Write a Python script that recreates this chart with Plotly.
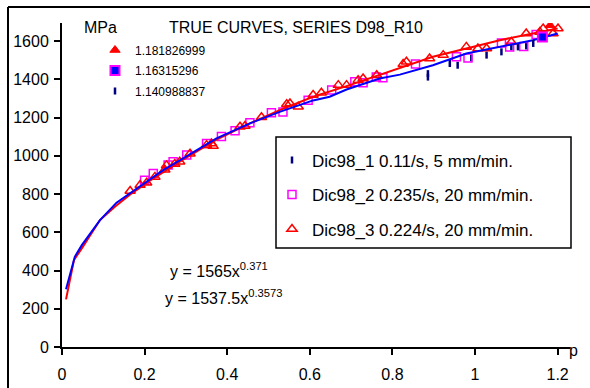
import plotly.graph_objects as go

# ---- data ----
red_x = [0.0097, 0.029, 0.048, 0.092, 0.128, 0.169, 0.213, 0.293, 0.374, 0.455, 0.527,
         0.608, 0.689, 0.769, 0.85, 0.898, 0.979, 1.06, 1.14, 1.2]
red_y = [249, 455, 516, 664, 734, 804, 870, 980, 1085, 1170, 1239,
         1309, 1365, 1422, 1483, 1518, 1562, 1605, 1640, 1666]

blue_x = [0.0097, 0.031, 0.048, 0.092, 0.132, 0.169, 0.213, 0.245, 0.293, 0.374, 0.455,
          0.527, 0.608, 0.648, 0.689, 0.769, 0.818, 0.85, 0.898, 0.979, 1.06, 1.14, 1.2]
blue_y = [302, 472, 533, 664, 755, 812, 880, 925, 987, 1091, 1170,
          1230, 1290, 1309, 1347, 1405, 1425, 1445, 1474, 1535, 1570, 1605, 1640]

sq_x = [0.200, 0.221, 0.257, 0.269, 0.302, 0.350, 0.386, 0.419, 0.455, 0.507, 0.535,
        0.596, 0.653, 0.709, 0.729, 0.761, 0.777, 0.856, 0.955, 0.983, 1.064, 1.084,
        1.118, 1.148]
sq_y = [873, 908, 952, 969, 1004, 1065, 1101, 1131, 1173, 1225, 1230,
        1291, 1344, 1387, 1382, 1413, 1409, 1480, 1518, 1512, 1590, 1570,
        1572, 1635]

tri_x = [0.165, 0.189, 0.205, 0.225, 0.249, 0.253, 0.273, 0.285, 0.310, 0.350, 0.362,
         0.366, 0.431, 0.443, 0.483, 0.544, 0.552, 0.572, 0.608, 0.628, 0.669, 0.689,
         0.717, 0.729, 0.762, 0.826, 0.834, 0.890, 0.923, 0.979, 1.007, 1.028, 1.088,
         1.124, 1.157, 1.165, 1.189, 1.201]
tri_y = [816, 847, 859, 890, 927, 950, 957, 969, 1011, 1056, 1065,
         1051, 1152, 1156, 1202, 1270, 1274, 1257, 1318, 1330, 1370, 1370,
         1396, 1405, 1422, 1480, 1492, 1509, 1527, 1570, 1562, 1562, 1596,
         1640, 1648, 1666, 1640, 1666]

dash_x = [0.886, 0.886, 0.939, 0.958, 0.991, 1.028, 1.064, 1.088, 1.104, 1.124]
dash_y = [1412, 1430, 1483, 1474, 1512, 1527, 1544, 1570, 1570, 1575]

end_names = ["1.181826999", "1.16315296", "1.140988837"]
end_x = [1.181826999, 1.16315296, 1.140988837]
end_y = [1683, 1622, 1588]

legend_names = ["Dic98_1 0.11/s, 5 mm/min.", "Dic98_2 0.235/s, 20 mm/min.",
                "Dic98_3 0.224/s, 20 mm/min."]
eq_texts = ["y = 1565x<sup>0.371</sup>", "y = 1537.5x<sup>0.3573</sup>"]
x_ticks = [0, 0.2, 0.4, 0.6, 0.8, 1, 1.2]
y_ticks = [0, 200, 400, 600, 800, 1000, 1200, 1400, 1600]

FONT = "Liberation Sans, Arial, sans-serif"
NAVY = "#000080"

fig = go.Figure()

# main series (legend 1)
fig.add_trace(go.Scatter(x=dash_x, y=dash_y, mode="markers", name=legend_names[0],
                         legendgroup="a",
                         marker=dict(symbol="line-ns", size=5, color=NAVY,
                                     line=dict(color=NAVY, width=2.5))))
fig.add_trace(go.Scatter(x=sq_x, y=sq_y, mode="markers", name=legend_names[1],
                         legendgroup="b",
                         marker=dict(symbol="square-open", size=8, color="#FF00FF",
                                     line=dict(color="#FF00FF", width=1.5))))
fig.add_trace(go.Scatter(x=tri_x, y=tri_y, mode="markers", name=legend_names[2],
                         legendgroup="c",
                         marker=dict(symbol="triangle-up-open", size=9, color="#FF0000",
                                     line=dict(color="#FF0000", width=1.5))))

# curves
fig.add_trace(go.Scatter(x=red_x, y=red_y, mode="lines", showlegend=False,
                         line=dict(color="#FF0000", width=2)))
fig.add_trace(go.Scatter(x=blue_x, y=blue_y, mode="lines", showlegend=False,
                         line=dict(color="#0000FF", width=2)))

# end points (legend 2)
fig.add_trace(go.Scatter(x=[end_x[0]], y=[end_y[0]], mode="markers", name=end_names[0],
                         legend="legend2", legendgroup="e1",
                         marker=dict(symbol="triangle-up", size=9, color="#FF0000",
                                     line=dict(color="#FF0000", width=1))))
fig.add_trace(go.Scatter(x=[end_x[1]], y=[end_y[1]], mode="markers", name=end_names[1],
                         legend="legend2", legendgroup="e2",
                         marker=dict(symbol="square", size=9, color="#0000FF",
                                     line=dict(color="#FF00FF", width=2))))
fig.add_trace(go.Scatter(x=[end_x[2]], y=[end_y[2]], mode="markers", name=end_names[2],
                         legend="legend2", legendgroup="e3",
                         marker=dict(symbol="line-ns", size=5, color=NAVY,
                                     line=dict(color=NAVY, width=2.5))))

W, H = 590, 388
L, R, T, B = 62, 20, 23, 41
PW, PH = W - L - R, H - T - B


def px(xp):
    return (xp - L) / PW


def py(yp):
    return (H - B - yp) / PH


axis_common = dict(showline=True, linecolor="black", linewidth=2, ticks="outside",
                   ticklen=6, tickwidth=2, tickcolor="black", showgrid=False,
                   zeroline=False, automargin=False,
                   tickfont=dict(family=FONT, size=16, color="black"))

fig.update_layout(
    width=W, height=H,
    margin=dict(l=L, r=R, t=T, b=B, autoexpand=False),
    paper_bgcolor="white", plot_bgcolor="white",
    font=dict(family=FONT, color="black"),
    xaxis=dict(range=[0, 1.23], tickvals=x_ticks, ticklabelstandoff=6, **axis_common),
    yaxis=dict(range=[0, 1695], tickvals=y_ticks, ticklabelstandoff=2, **axis_common),
    legend=dict(x=px(272), y=py(142.5), xanchor="left", yanchor="top",
                bgcolor="rgba(0,0,0,0)", borderwidth=0, traceorder="grouped",
                tracegroupgap=9.4, font=dict(family=FONT, size=17, color="black")),
    legend2=dict(x=px(95), y=py(35.5), xanchor="left", yanchor="top",
                 bgcolor="rgba(0,0,0,0)", borderwidth=0, traceorder="grouped",
                 tracegroupgap=1.5, font=dict(family=FONT, size=12, color="black")),
    showlegend=True,
)

# legend box and outer frame
fig.add_shape(type="rect", xref="paper", yref="paper",
              x0=px(276), x1=px(571), y0=py(248), y1=py(137),
              line=dict(color="black", width=1.5), fillcolor="white", layer="below")
fig.add_shape(type="line", xref="paper", yref="paper",
              x0=px(8), x1=px(600), y0=py(7), y1=py(7),
              line=dict(color="black", width=2))
fig.add_shape(type="line", xref="paper", yref="paper",
              x0=px(8), x1=px(8), y0=py(7), y1=py(400),
              line=dict(color="black", width=2))

ann_font = dict(family=FONT, size=16, color="black")
fig.add_annotation(text="MPa", xref="paper", yref="paper", x=px(100), y=py(28),
                   xanchor="center", yanchor="middle", showarrow=False, font=ann_font)
fig.add_annotation(text="TRUE CURVES, SERIES D98_R10", xref="paper", yref="paper",
                   x=px(167), y=py(28), xanchor="left", yanchor="middle",
                   showarrow=False, font=ann_font)
fig.add_annotation(text=eq_texts[0], xref="paper", yref="paper", x=px(168), y=py(270),
                   xanchor="left", yanchor="middle", showarrow=False, font=ann_font)
fig.add_annotation(text=eq_texts[1], xref="paper", yref="paper", x=px(162.7), y=py(297),
                   xanchor="left", yanchor="middle", showarrow=False, font=ann_font)
fig.add_annotation(text="p", xref="paper", yref="paper", x=px(573), y=py(350),
                   xanchor="center", yanchor="middle", showarrow=False, font=ann_font)

fig.write_html("out.html")
